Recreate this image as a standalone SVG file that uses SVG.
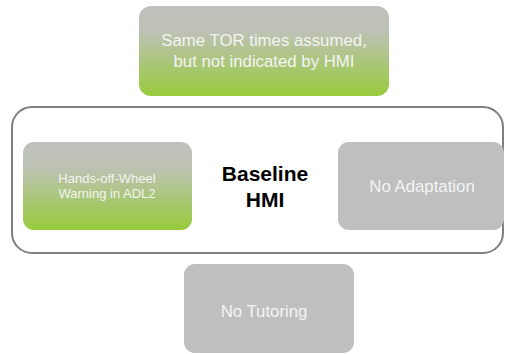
<svg xmlns="http://www.w3.org/2000/svg" width="505" height="354" viewBox="0 0 505 354">
<defs>
<linearGradient id="gg" x1="0" y1="0" x2="0" y2="1">
<stop offset="0" stop-color="#c0c0c0"/>
<stop offset="0.3" stop-color="#bcc2b2"/>
<stop offset="1" stop-color="#97cb3b"/>
</linearGradient>
</defs>
<style>
.g{fill:url(#gg)}
.gr{fill:#bfbfbf}
.t{font-family:"Liberation Sans",Arial,sans-serif;fill:#f4f4f4;text-anchor:middle}
.b{font-family:"Liberation Sans",Arial,sans-serif;font-weight:bold;fill:#000;text-anchor:middle;font-size:21px}
</style>
<g id="container">
<rect x="12" y="107" width="491" height="146" rx="20" fill="#fff" stroke="#7f7f7f" stroke-width="2"/>
<text class="b" x="265" y="181">Baseline</text>
<text class="b" x="265" y="207">HMI</text>
</g>
<g id="tor">
<rect class="g" x="139" y="6" width="250" height="90" rx="12"/>
<text class="t" x="264" y="46" font-size="16.8">Same TOR times assumed,</text>
<text class="t" x="264" y="67" font-size="16.8">but not indicated by HMI</text>
</g>
<g id="hands">
<rect class="g" x="23" y="142" width="169" height="88" rx="11"/>
<text class="t" x="107" y="183" font-size="13">Hands-off-Wheel</text>
<text class="t" x="107" y="198" font-size="13">Warning in ADL2</text>
</g>
<g id="adapt">
<rect class="gr" x="338" y="142" width="166" height="88" rx="11"/>
<text class="t" x="422" y="192" font-size="16.8">No Adaptation</text>
</g>
<g id="tutor">
<rect class="gr" x="184" y="264" width="170" height="89" rx="11"/>
<text class="t" x="264" y="317" font-size="16.8">No Tutoring</text>
</g>
<g id="connectors"></g>
</svg>
